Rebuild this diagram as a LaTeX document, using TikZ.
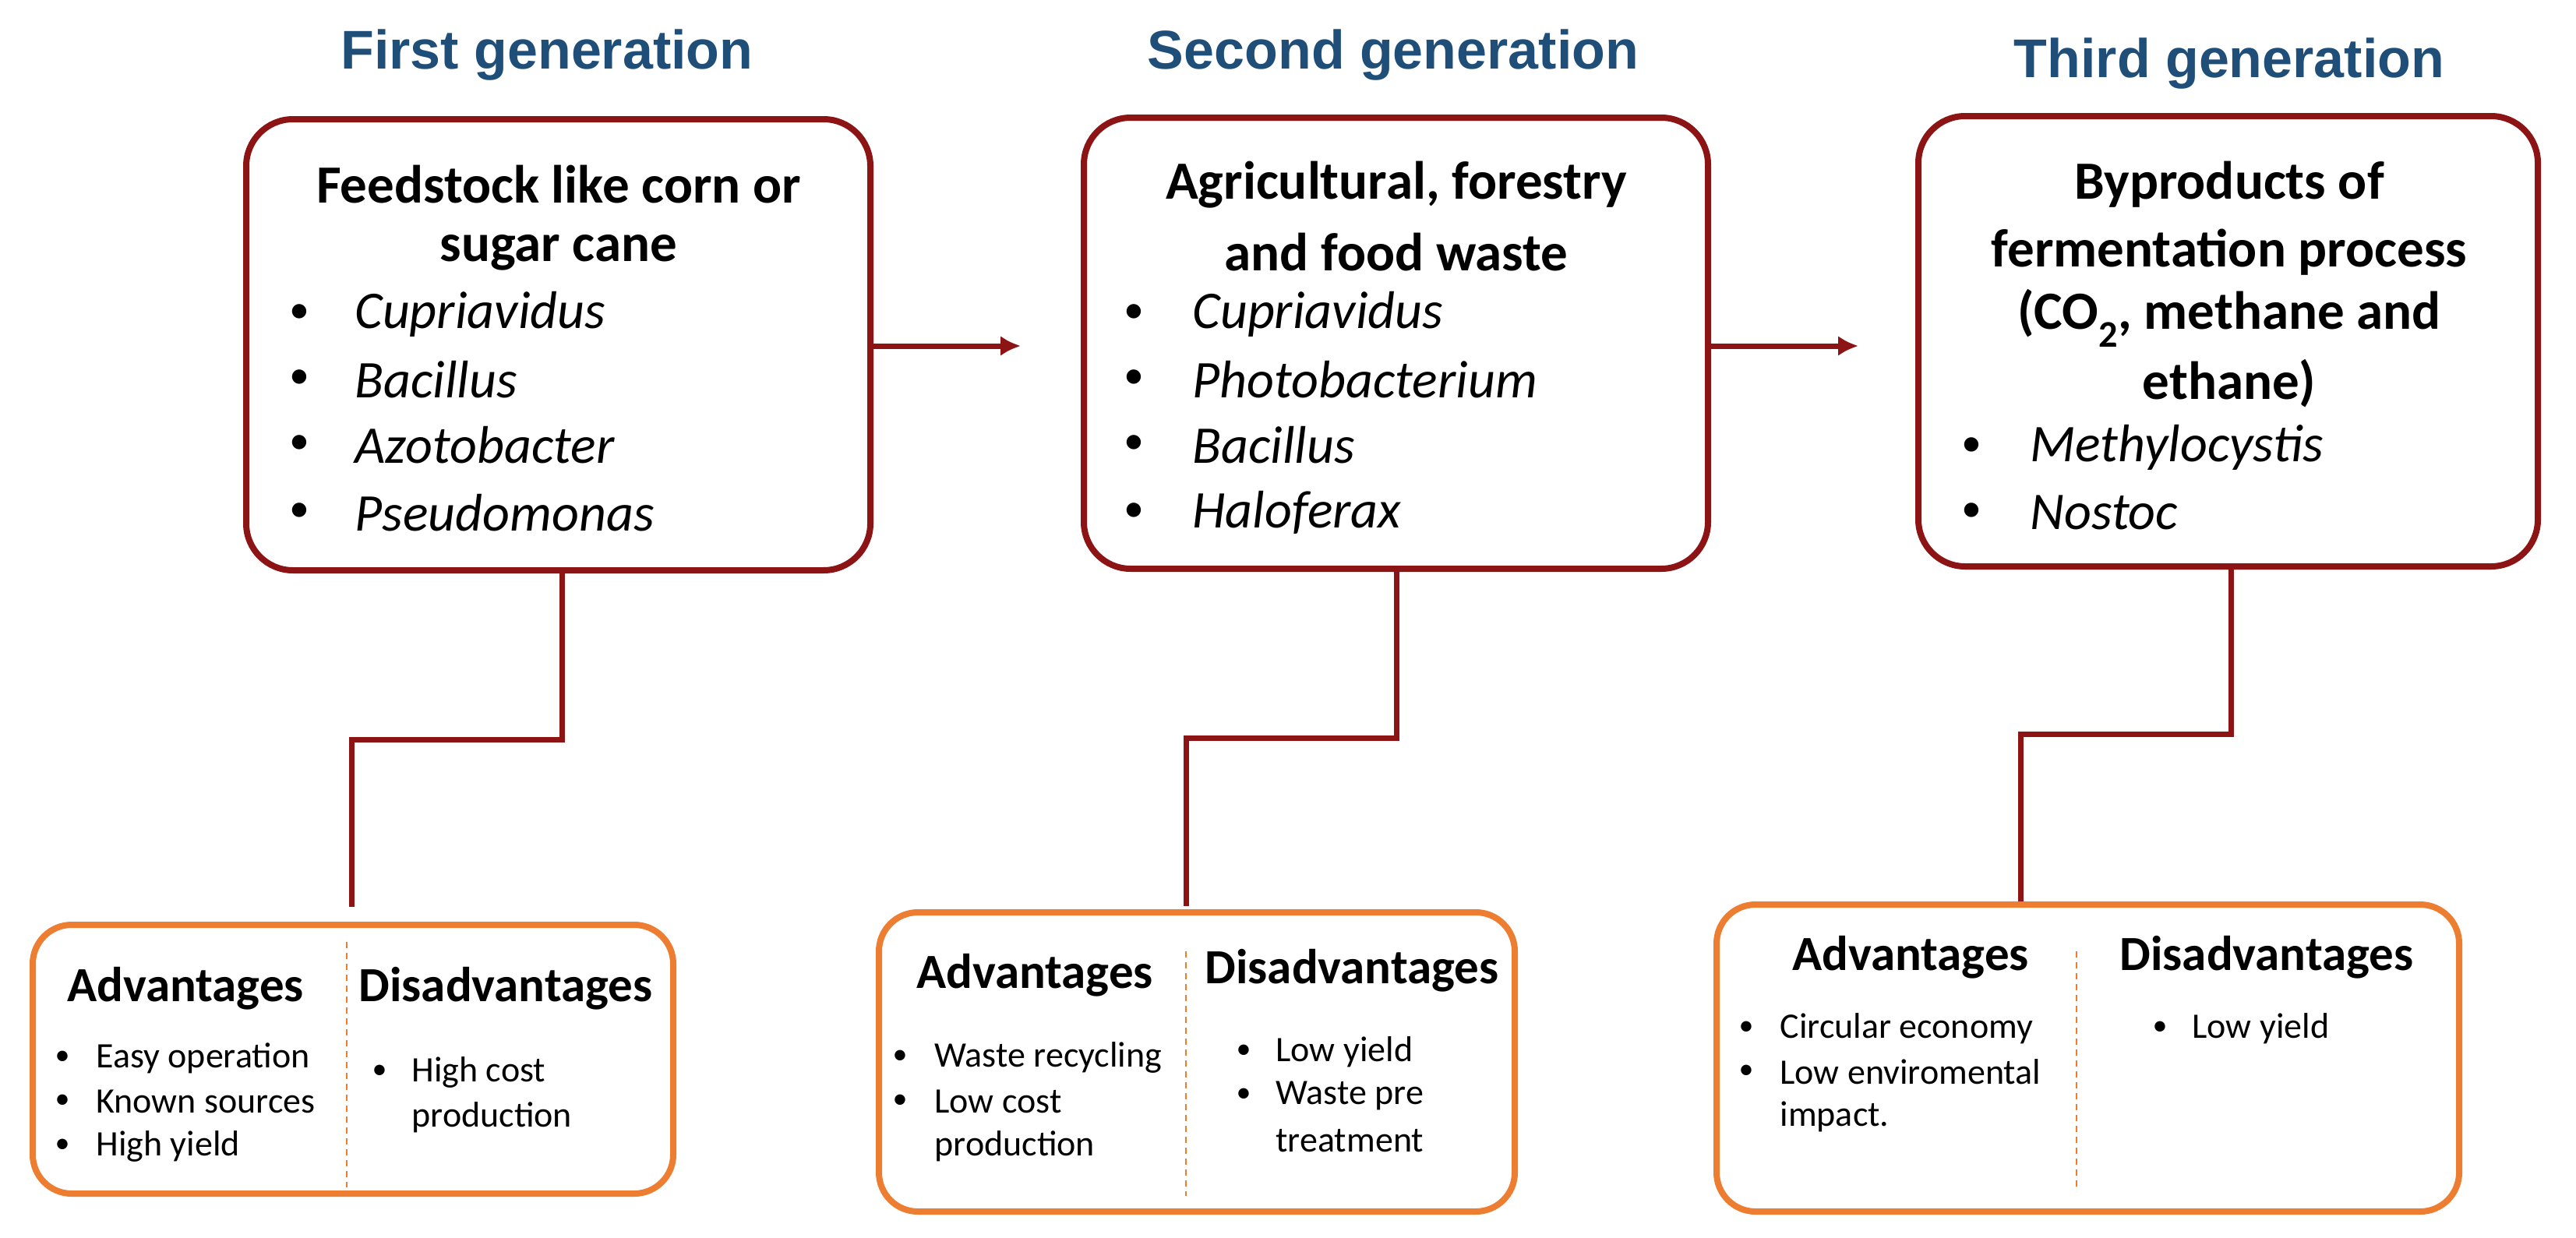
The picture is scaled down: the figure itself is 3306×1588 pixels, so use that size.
\documentclass[tikz,border=0pt]{standalone}
\usepackage{fontspec}
\usetikzlibrary{arrows.meta}
\setmainfont{Carlito}
\newfontfamily\ttl{Liberation Sans}
\definecolor{dred}{RGB}{140,20,20}
\definecolor{org}{RGB}{237,125,49}
\definecolor{tblue}{RGB}{31,78,121}
\begin{document}
\begin{tikzpicture}[x=1pt,y=-1pt,
 title/.style={font=\ttl\bfseries\fontsize{70}{74}\selectfont,text=tblue},
 bigbox/.style={draw=dred,line width=8pt,rounded corners=60pt},
 smallbox/.style={draw=org,line width=8pt,rounded corners=50pt},
 head/.style={font=\bfseries\fontsize{69}{74}\selectfont},
 it/.style={anchor=west,font=\itshape\fontsize{68}{74}\selectfont},
 bul/.style={font=\fontsize{52}{60}\selectfont},
 sh/.style={font=\bfseries\fontsize{63}{66}\selectfont},
 st/.style={anchor=west,font=\fontsize{46}{50}\selectfont},
 sb/.style={font=\fontsize{38}{42}\selectfont},
 conn/.style={draw=dred,line width=7pt},
 arr/.style={draw=dred,line width=7pt,-{Latex[length=26pt,width=26pt]}},
 div/.style={draw=org,line width=2pt,dash pattern=on 8pt off 6pt}]
\useasboundingbox (0,0) rectangle (3306,1588);
\node[title] (t1) at (702,71) {First generation};
\node[title] (t2) at (1788,71) {Second generation};
\node[title] (t3) at (2861,82) {Third generation};
% big boxes
\draw[bigbox] (316,153) rectangle (1117,732);
\draw[bigbox] (1391,151) rectangle (2192,730);
\draw[bigbox] (2462,149) rectangle (3257,727);
\coordinate (a1s) at (1117,444); \coordinate (a1e) at (1310,444);
\coordinate (a2s) at (2192,444); \coordinate (a2e) at (2385,444);
\draw[arr] (a1s) -- (a1e);
\draw[arr] (a2s) -- (a2e);
% box1
\node[head] (h1a) at (717,237) {Feedstock like corn or};
\node[head] (h1b) at (717,324) {sugar cane};
\foreach \y/\t [count=\i] in {403/Cupriavidus,487/Bacillus,571/Azotobacter,658/Pseudomonas}{
 \node[bul] (b1\i) at (384,\y) {\textbullet};
 \node[it] (i1\i) at (452,\y) {\t};}
% box2
\node[head] (h2a) at (1792,237) {Agricultural, forestry};
\node[head] (h2b) at (1792,324) {and food waste};
\foreach \y/\t [count=\i] in {403/Cupriavidus,487/Photobacterium,571/Bacillus,658/Haloferax}{
 \node[bul] (b2\i) at (1455,\y) {\textbullet};
 \node[it] (i2\i) at (1527,\y) {\t};}
% box3
\node[head] (h3a) at (2861,237) {Byproducts of};
\node[head] (h3b) at (2861,324) {fermentation process};
\node[head] (h3c) at (2861,408) {(CO\textsubscript{2}, methane and};
\node[head] (h3d) at (2861,492) {ethane)};
\foreach \y/\t [count=\i] in {574/Methylocystis,658/Nostoc}{
 \node[bul] (b3\i) at (2530,\y) {\textbullet};
 \node[it] (i3\i) at (2602,\y) {\t};}
% connectors
\coordinate (c1a) at (721,732); \coordinate (c1b) at (451,1164);
\draw[conn] (c1a) -- (721,949) -- (451,949) -- (c1b);
\coordinate (c2a) at (1792,730); \coordinate (c2b) at (1522,1163);
\draw[conn] (c2a) -- (1792,947) -- (1522,947) -- (c2b);
\coordinate (c3a) at (2863,727); \coordinate (c3b) at (2593,1157);
\draw[conn] (c3a) -- (2863,942) -- (2593,942) -- (c3b);
% small boxes
\draw[smallbox] (42,1187) rectangle (864,1532);
\draw[smallbox] (1128,1171) rectangle (1944,1555);
\draw[smallbox] (2203,1161) rectangle (3156,1555);
\draw[div] (445,1209) -- (445,1524);
\draw[div] (1522,1221) -- (1522,1535);
\draw[div] (2665,1221) -- (2665,1529);
% small box 1
\node[sh] (s1a) at (238,1269) {Advantages};
\node[sh] (s1d) at (649,1269) {Disadvantages};
\foreach \y/\t [count=\i] in {1358/Easy operation,1414/Known sources,1471/High yield}{
 \node[sb] (p1\i) at (80,\y) {\textbullet}; \node[st] (q1\i) at (120,\y) {\t};}
\node[sb] (p14) at (487,1376) {\textbullet};
\node[st] (q14) at (525,1376) {High cost};
\node[st] (q15) at (525,1434) {production};
% small box 2
\node[sh] (s2a) at (1328,1252) {Advantages};
\node[sh] (s2d) at (1735,1246) {Disadvantages};
\foreach \y/\t [count=\i] in {1357/Waste recycling,1414/Low cost}{
 \node[sb] (p2\i) at (1155,\y) {\textbullet}; \node[st] (q2\i) at (1196,\y) {\t};}
\node[st] (q23) at (1196,1471) {production};
\foreach \y/\t [count=\i] in {1350/Low yield,1406/Waste pre}{
 \node[sb] (r2\i) at (1596,\y) {\textbullet}; \node[st] (u2\i) at (1634,\y) {\t};}
\node[st] (u23) at (1634,1464) {treatment};
% small box 3
\node[sh] (s3a) at (2452,1229) {Advantages};
\node[sh] (s3d) at (2909,1229) {Disadvantages};
\foreach \y/\t [count=\i] in {1320/Circular economy,1376/Low enviromental}{
 \node[sb] (p3\i) at (2241,\y) {\textbullet}; \node[st] (q3\i) at (2281,\y) {\t};}
\node[st] (q33) at (2281,1433) {impact.};
\node[sb] (r31) at (2772,1320) {\textbullet};
\node[st] (u31) at (2810,1320) {Low yield};
\end{tikzpicture}
\end{document}
